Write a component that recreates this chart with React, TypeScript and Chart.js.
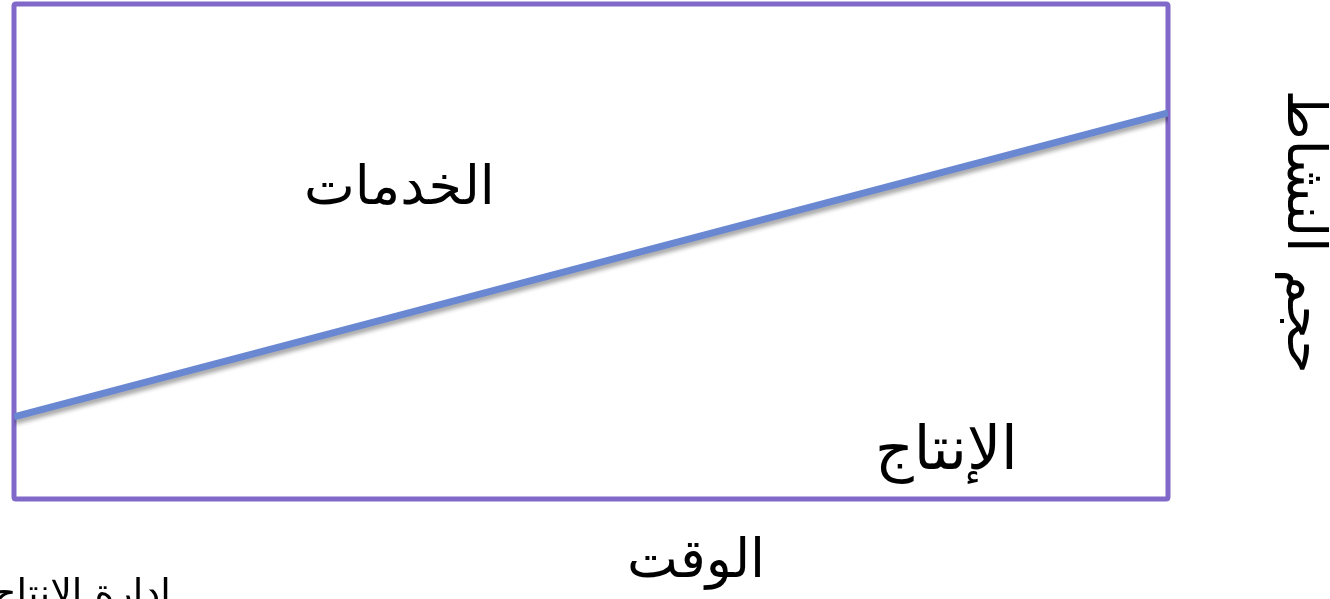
import React, { useEffect, useRef } from "react";
import { Chart, registerables } from "chart.js";

Chart.register(...registerables);

// Data
const timeLabels = [0, 100];
const activityValues = [16.6, 78];
const xTitle = "الوقت";
const yTitle = "حجم النشاط";
const regionLabels = ["الخدمات", "الإنتاج"];
const regionLabelX = [33.4, 80.8];
const regionLabelY = [62.4, 9.3];
const regionLabelSize = [54, 60];
const footnote = "ادارة الإنتاج";

const FONT = "'DejaVu Sans', 'Liberation Serif', serif";

const framePlugin = {
  id: "frame",
  beforeDatasetsDraw(chart: any) {
    const { ctx, chartArea } = chart;
    const { left, top, right, bottom } = chartArea;
    ctx.save();
    ctx.strokeStyle = "#8069C8";
    ctx.lineWidth = 5;
    ctx.lineJoin = "round";
    ctx.beginPath();
    const r = 2;
    ctx.moveTo(left + r, top);
    ctx.lineTo(right - r, top);
    ctx.quadraticCurveTo(right, top, right, top + r);
    ctx.lineTo(right, bottom - r);
    ctx.quadraticCurveTo(right, bottom, right - r, bottom);
    ctx.lineTo(left + r, bottom);
    ctx.quadraticCurveTo(left, bottom, left, bottom - r);
    ctx.lineTo(left, top + r);
    ctx.quadraticCurveTo(left, top, left + r, top);
    ctx.closePath();
    ctx.stroke();
    ctx.restore();
  },
  beforeDatasetDraw(chart: any) {
    const { ctx } = chart;
    ctx.save();
    ctx.shadowColor = "rgba(0,0,0,0.35)";
    ctx.shadowBlur = 4;
    ctx.shadowOffsetX = 1;
    ctx.shadowOffsetY = 4;
  },
  afterDatasetDraw(chart: any) {
    chart.ctx.restore();
  },
  afterDraw(chart: any) {
    const { ctx, scales, chartArea } = chart;
    ctx.save();
    ctx.fillStyle = "#000";
    ctx.textAlign = "center";
    ctx.textBaseline = "middle";
    ctx.direction = "rtl";
    regionLabels.forEach((t, i) => {
      ctx.font = `${regionLabelSize[i]}px ${FONT}`;
      const x = scales.x.getPixelForValue(regionLabelX[i]);
      const y = scales.y.getPixelForValue(regionLabelY[i]);
      ctx.fillText(t, x, y);
    });
    // x-axis title
    ctx.font = `54px ${FONT}`;
    ctx.fillText(xTitle, scales.x.getPixelForValue(59.1), chartArea.bottom + 64);
    // y-axis title, rotated clockwise, on the right
    ctx.save();
    ctx.translate(chartArea.right + 134, scales.y.getPixelForValue(54));
    ctx.rotate(Math.PI / 2);
    ctx.fillText(yTitle, 0, 0);
    ctx.restore();
    // footnote
    ctx.font = `38px ${FONT}`;
    ctx.textAlign = "left";
    ctx.textBaseline = "top";
    ctx.direction = "ltr";
    ctx.fillText(footnote, -8, 577);
    ctx.restore();
  },
};

export default function App() {
  const ref = useRef<HTMLCanvasElement>(null);
  useEffect(() => {
    if (!ref.current) return;
    const chart = new Chart(ref.current, {
      type: "line",
      data: {
        datasets: [
          {
            data: timeLabels.map((x, i) => ({ x, y: activityValues[i] })),
            borderColor: "#6A87D2",
            borderWidth: 7,
            pointRadius: 0,
            fill: false,
            tension: 0,
          },
        ],
      },
      options: {
        animation: false,
        responsive: true,
        maintainAspectRatio: false,
        layout: { padding: { left: 14, top: 4, right: 0, bottom: 0 } },
        plugins: { legend: { display: false }, tooltip: { enabled: false } },
        scales: {
          x: {
            type: "linear",
            min: 0,
            max: 100,
            position: "bottom",
            grid: { display: false, drawTicks: false },
            border: { display: false },
            ticks: { display: false },
            title: { display: false, text: xTitle },
            afterFit(scale: any) {
              scale.height = 100;
            },
          },
          y: {
            type: "linear",
            min: 0,
            max: 100,
            position: "right",
            grid: { display: false, drawTicks: false },
            border: { display: false },
            ticks: { display: false },
            title: { display: false, text: yTitle },
            afterFit(scale: any) {
              scale.width = 162;
            },
          },
        },
      },
      plugins: [framePlugin],
    });
    return () => chart.destroy();
  }, []);
  return (
    <div style={{ position: "fixed", left: 0, top: 0, width: 1330, height: 599, background: "#fff" }}>
      <canvas ref={ref} />
    </div>
  );
}
